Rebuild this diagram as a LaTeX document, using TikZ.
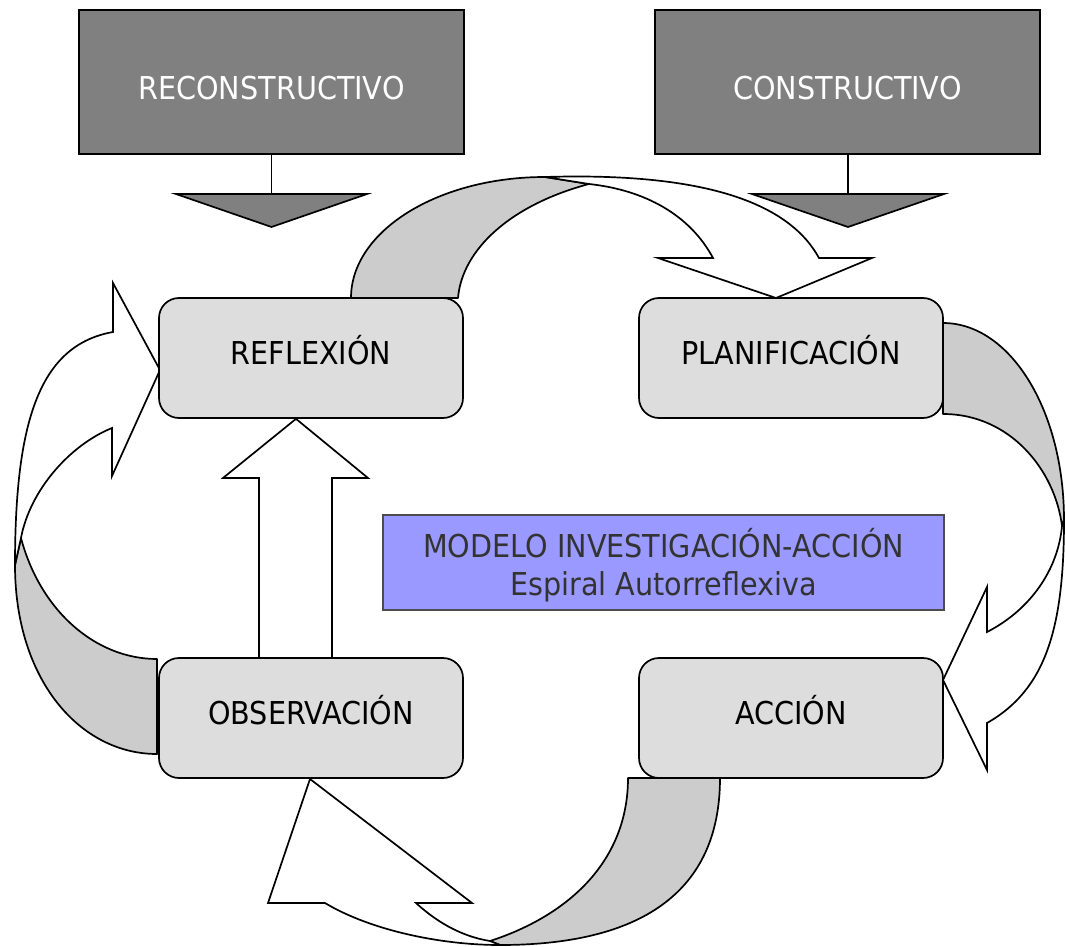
\documentclass[tikz,border=0pt]{standalone}
\usepackage{fontspec}
\setmainfont{DejaVu Sans}[FakeStretch=0.91]
\begin{document}
\begin{tikzpicture}[x=1pt,y=-1pt,
  lw/.style={line width=1.7pt},
  darkbox/.style={lw,draw=black,fill=boxdark,minimum width=385pt,minimum height=144pt,inner sep=0pt},
  stagebox/.style={lw,draw=black,fill=boxlight,rounded corners=20pt,minimum width=304pt,minimum height=120pt,inner sep=0pt},
  band/.style={lw,draw=black,fill=bandgray,line join=round},
  blockarrow/.style={lw,draw=black,fill=white,line join=miter},
  tri/.style={lw,draw=black,fill=boxdark,line join=miter},
  lbl/.style={font=\fontsize{31.5}{36}\selectfont,anchor=base,inner sep=0pt}]
\definecolor{boxdark}{HTML}{808080}
\definecolor{boxlight}{HTML}{DDDDDD}
\definecolor{bandgray}{HTML}{CCCCCC}
\definecolor{bluebox}{HTML}{9999FF}
\definecolor{bluetext}{HTML}{333333}
\useasboundingbox (0,0) rectangle (1065,947);
\fill[white] (0,0) rectangle (1065,947);

% curved arrow REFLEXION -> PLANIFICACION (top)
\draw[band] (351,298) .. controls (351,231) and (438,177) .. (545,177) -- (589,184)
  .. controls (510,205) and (462,250) .. (458,298) -- cycle;
\draw[blockarrow] (545,177) .. controls (710,172) and (790,205) .. (819,258) -- (872,258) -- (776,298) -- (658,258) -- (713,258)
  .. controls (690,215) and (645,190) .. (589,184) -- cycle;

% curved arrow PLANIFICACION -> ACCION (right)
\draw[band] (943,323) .. controls (1010,323) and (1064,410) .. (1064,520) -- (1062,526)
  .. controls (1055,470) and (1010,414) .. (943,414) -- cycle;
\draw[blockarrow] (1064,520) .. controls (1064,630) and (1045,690) .. (987,723) -- (987,770) -- (943,680) -- (987,587) -- (987,632)
  .. controls (1030,610) and (1058,570) .. (1062,526) -- cycle;

% curved arrow ACCION -> OBSERVACION (bottom)
\draw[band] (720,778) .. controls (720,900) and (630,945) .. (500,945) -- (490,941)
  .. controls (570,915) and (628,860) .. (628,778) -- cycle;
\draw[blockarrow] (500,945) .. controls (440,945) and (370,930) .. (325,903) -- (268,903) -- (310,779) -- (472,903) -- (416,903)
  .. controls (440,925) and (465,937) .. (490,941) -- cycle;

% curved arrow OBSERVACION -> REFLEXION (left)
\draw[band] (157,754) .. controls (80,754) and (15,680) .. (15,565) -- (21,538)
  .. controls (40,610) and (95,659) .. (157,659) -- cycle;
\draw[blockarrow] (15,565) .. controls (15,420) and (40,345) .. (113,332) -- (113,283) -- (160,370) -- (112,476) -- (112,428)
  .. controls (70,445) and (30,490) .. (21,538) -- cycle;

% top boxes
\node[darkbox] (reco) at (271.5,82) {};
\node[darkbox] (cons) at (847.5,82) {};
\node[lbl,text=white] at (271.5,100) {RECONSTRUCTIVO};
\node[lbl,text=white] at (847.5,100) {CONSTRUCTIVO};
\coordinate (t1) at (271.5,194);
\coordinate (t2) at (848,194);
\draw[lw] (reco.south) -- (t1);
\draw[lw] (cons.south -| t2) -- (t2);
\draw[tri] (176,194) -- (367,194) -- (271.5,227) -- cycle;
\draw[tri] (752,194) -- (944,194) -- (848,227) -- cycle;

% stage boxes
\node[stagebox] (refl) at (311,358) {};
\node[stagebox] (plan) at (791,358) {};
\node[stagebox] (obs) at (311,718) {};
\node[stagebox] (acc) at (791,718) {};
\node[lbl] at (311,364) {REFLEXIÓN};
\node[lbl] at (791,364) {PLANIFICACIÓN};
\node[lbl] at (311,724) {OBSERVACIÓN};
\node[lbl] at (791,724) {ACCIÓN};

% straight block arrow OBSERVACION -> REFLEXION
\draw[blockarrow] (259,658) -- (259,478) -- (223,478) -- (refl.south -| 296,0) -- (368,478) -- (332,478) -- (332,658) -- cycle;

% central title box
\node[draw=black!70,line width=1.2pt,fill=bluebox,minimum width=561pt,minimum height=95pt,inner sep=0pt] (title) at (663.5,562.5) {};
\node[lbl,text=bluetext] at (663.5,557) {MODELO INVESTIGACIÓN-ACCIÓN};
\node[lbl,text=bluetext] at (663.5,595) {Espiral Autorreflexiva};
\end{tikzpicture}
\end{document}
